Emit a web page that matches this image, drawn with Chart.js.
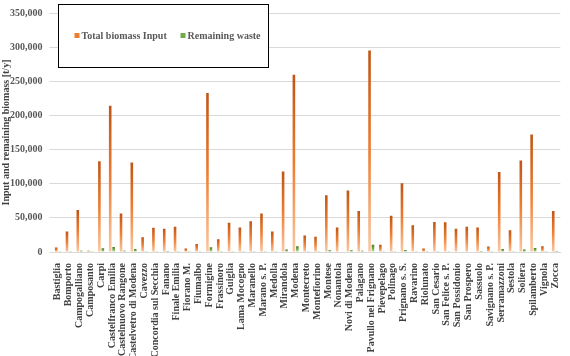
<!DOCTYPE html>
<html>
<head>
<meta charset="utf-8">
<script src="https://cdn.jsdelivr.net/npm/chart.js@4"></script>
<style>
  body { margin: 0; background: #fff; }
  #wrap { width: 570px; height: 356px; position: relative; }
</style>
</head>
<body>
<div id="wrap"><canvas id="chart-biomassa"></canvas></div>
<script>
// comuni (categorie)
const comuni = ['Bastiglia', 'Bomporto', 'Campogalliano', 'Camposanto', 'Carpi', 'Castelfranco Emilia',
  'Castelnuovo Rangone', 'Castelvetro di Modena', 'Cavezzo', 'Concordia sul Secchia', 'Fanano',
  'Finale Emilia', 'Fiorano M.', 'Fiumalbo', 'Formigine', 'Frassinoro', 'Guiglia', 'Lama Mocogno',
  'Maranello', 'Marano s. P.', 'Medolla', 'Mirandola', 'Modena', 'Montecreto', 'Montefiorino',
  'Montese', 'Nonantola', 'Novi di Modena', 'Palagano', 'Pavullo nel Frignano', 'Pievepelago',
  'Polinago', 'Prignano s. S.', 'Ravarino', 'Riolunato', 'San Cesario', 'San Felice s. P.',
  'San Possidonio', 'San Prospero', 'Sassuolo', 'Savignano s. P.', 'Serramazzoni', 'Sestola',
  'Soliera', 'Spilamberto', 'Vignola', 'Zocca'];

// Total biomass Input [t/y]
const biomassInput = [6500, 30000, 61500, 2000, 133000, 214000, 56500, 131000, 21500, 35500, 34000,
  37000, 5000, 11700, 233000, 18700, 43000, 36000, 45000, 56500, 30000, 118000, 259500, 24000, 22500,
  83000, 36000, 90000, 60000, 295000, 10500, 53000, 100500, 39000, 5000, 44000, 43500, 34000, 37000,
  36000, 8000, 117000, 32000, 134000, 172000, 8500, 60000];

// Remaining waste [t/y]
const remainingWaste = [300, 1000, 2000, 200, 5500, 7500, 2000, 4500, 500, 1000, 1500,
  1000, 200, 300, 7000, 300, 1000, 1000, 1200, 1200, 500, 3500, 8500, 500, 500,
  2500, 800, 2500, 2000, 10500, 300, 1200, 3000, 500, 200, 1200, 1000, 800, 800,
  1500, 300, 4500, 1000, 3500, 6000, 300, 1500];

// tick asse y
const yMin = 0;
const yMax = 350000;
const yStep = 50000;

const FONT = "'Liberation Serif', 'Times New Roman', serif";

// gradiente per ogni barra (scuro in alto, chiaro in basso)
function barGradient(stops) {
  return function (context) {
    const chart = context.chart;
    const yScale = chart.scales.y;
    if (!yScale || context.raw === undefined) return stops[1];
    const top = yScale.getPixelForValue(context.raw);
    const base = yScale.getPixelForValue(0);
    if (!isFinite(top) || Math.abs(base - top) < 1) return stops[1];
    const g = chart.ctx.createLinearGradient(0, top, 0, base);
    g.addColorStop(0, stops[0]);
    g.addColorStop(0.5, stops[1]);
    g.addColorStop(1, stops[2]);
    return g;
  };
}

const orangeStops = ['#bf5516', '#ed7d31', '#fac9a4'];
const greenStops = ['#4d7a2b', '#70ad47', '#c6e2b3'];

// legenda dentro al grafico con bordo
const boxLegend = {
  id: 'boxLegend',
  afterDraw(chart) {
    const ctx = chart.ctx;
    const left = Math.round(chart.chartArea.left + 5) + 0.5;
    const top = 4.5;
    ctx.save();
    ctx.fillStyle = '#fff';
    ctx.fillRect(left, top, 210, 63);
    ctx.strokeStyle = '#000';
    ctx.lineWidth = 1;
    ctx.strokeRect(left, top, 210, 63);
    const items = [
      { text: 'Total biomass Input', color: orangeStops[1], x: left + 16 },
      { text: 'Remaining waste', color: greenStops[1], x: left + 122 }
    ];
    ctx.font = 'bold 10px ' + FONT;
    ctx.textBaseline = 'middle';
    items.forEach(it => {
      ctx.fillStyle = it.color;
      ctx.fillRect(it.x, 33, 5, 5);
      ctx.fillStyle = '#595959';
      ctx.fillText(it.text, it.x + 7, 36);
    });
    ctx.restore();
  }
};

const ctx = document.getElementById('chart-biomassa');
new Chart(ctx, {
  type: 'bar',
  data: {
    labels: comuni,
    datasets: [{
      label: 'Total biomass Input',
      data: biomassInput,
      backgroundColor: barGradient(orangeStops),
      barPercentage: 0.75,
      categoryPercentage: 0.64
    }, {
      label: 'Remaining waste',
      data: remainingWaste,
      backgroundColor: barGradient(greenStops),
      barPercentage: 0.75,
      categoryPercentage: 0.64
    }]
  },
  options: {
    responsive: true,
    maintainAspectRatio: false,
    animation: false,
    layout: { padding: { top: 0, right: 3, left: 0, bottom: 0 } },
    plugins: {
      legend: { display: false },
      tooltip: { enabled: false }
    },
    scales: {
      x: {
        grid: { display: false },
        border: { color: '#d9d9d9' },
        afterFit: scale => { scale.height = 104; },
        ticks: {
          autoSkip: false,
          maxRotation: 90,
          minRotation: 90,
          padding: 3,
          color: '#404040',
          font: { family: FONT, size: 10, weight: 'bold' }
        }
      },
      y: {
        min: yMin,
        max: yMax,
        border: { display: false },
        grid: { color: '#d9d9d9', drawTicks: true, tickLength: 3 },
        afterFit: scale => { scale.width = 52.5; },
        ticks: {
          stepSize: yStep,
          padding: 7,
          color: '#595959',
          font: { family: FONT, size: 10, weight: 'bold' },
          callback: v => v.toLocaleString('en-US')
        },
        title: {
          display: true,
          text: 'Input and remaining biomass [t/y]',
          color: '#404040',
          padding: { top: 0, bottom: 0 },
          font: { family: FONT, size: 10, weight: 'bold' }
        }
      }
    }
  },
  plugins: [boxLegend]
});
</script>
</body>
</html>
